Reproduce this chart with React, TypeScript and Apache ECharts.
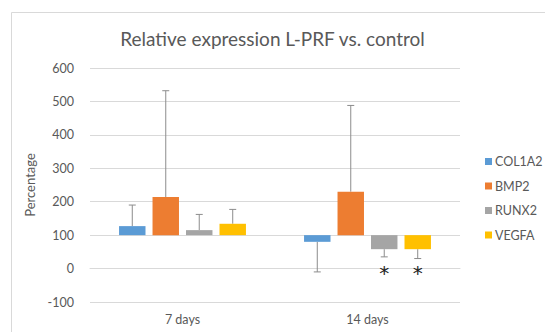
import React, { useEffect, useRef } from "react";
import * as echarts from "echarts";

const categories = ["7 days", "14 days"];
const seriesNames = ["COL1A2", "BMP2", "RUNX2", "VEGFA"];
const col1a2 = [127, 80];
const col1a2Err = [190, -10];
const bmp2 = [214, 230];
const bmp2Err = [532, 488];
const runx2 = [115, 58];
const runx2Err = [162, 35];
const vegfa = [134, 58];
const vegfaErr = [177, 30];
const runx2Sig = ["", "*"];
const vegfaSig = ["", "*"];
const yTicks = [-100, 0, 100, 200, 300, 400, 500, 600];

const baseline = 100;
const colors = ["#5B9BD5", "#ED7D31", "#A5A5A5", "#FFC000"];
const FONT = "Lato, 'Open Sans', sans-serif";

const values = [col1a2, bmp2, runx2, vegfa];
const errs = [col1a2Err, bmp2Err, runx2Err, vegfaErr];
const sigs = [["", ""], ["", ""], runx2Sig, vegfaSig];

export default function App() {
  const ref = useRef<HTMLDivElement>(null);
  useEffect(() => {
    document.body.style.margin = "0";
    const chart = echarts.init(ref.current!, null, { renderer: "svg" });
    const series = seriesNames.map((name, si) => ({
      type: "custom",
      name,
      itemStyle: { color: colors[si] },
      data: categories.map((_, ci) => [ci, values[si][ci], errs[si][ci]]),
      renderItem: (params: any, api: any) => {
        const ci = api.value(0);
        const v = api.value(1);
        const e = api.value(2);
        const bandW = api.size([1, 0])[0];
        const bw = bandW * 0.143;
        const gap = bandW * 0.038;
        const total = 4 * bw + 3 * gap;
        const c0 = api.coord([ci, baseline]);
        const x0 = c0[0] - total / 2 + si * (bw + gap);
        const yv = api.coord([ci, v])[1];
        const ye = api.coord([ci, e])[1];
        const xc = x0 + bw / 2;
        const children: any[] = [
          {
            type: "line",
            shape: { x1: xc, y1: yv, x2: xc, y2: ye },
            style: { stroke: "#8c8c8c", lineWidth: 1 },
          },
          {
            type: "line",
            shape: { x1: xc - 3.5, y1: ye, x2: xc + 3.5, y2: ye },
            style: { stroke: "#8c8c8c", lineWidth: 1 },
          },
          {
            type: "rect",
            shape: { x: x0, y: Math.min(yv, c0[1]), width: bw, height: Math.abs(yv - c0[1]) },
            style: { fill: colors[si] },
          },
        ];
        const s = sigs[si][params.dataIndex];
        if (s) {
          const y0 = api.coord([ci, 0])[1];
          children.push({
            type: "text",
            x: xc,
            y: y0 + 4,
            style: { text: s, fill: "#222", font: "20px 'DejaVu Sans', sans-serif", align: "center", verticalAlign: "middle" },
          });
        }
        return { type: "group", children };
      },
    }));
    chart.setOption({
      animation: false,
      title: {
        text: "Relative expression L-PRF vs. control",
        left: "center",
        top: 24,
        textStyle: { fontFamily: FONT, fontSize: 19, fontWeight: "normal", color: "#595959" },
      },
      graphic: [
        {
          type: "rect",
          shape: { x: 11.5, y: 12.5, width: 700, height: 500 },
          style: { fill: "none", stroke: "#d9d9d9", lineWidth: 1 },
        },
      ],
      legend: {
        orient: "vertical",
        left: 480,
        top: 150,
        itemWidth: 7,
        itemHeight: 7,
        itemGap: 11.5,
        icon: "rect",
        data: seriesNames.map((n, i) => ({ name: n, itemStyle: { color: colors[i] } })),
        textStyle: { fontFamily: FONT, fontSize: 12.5, color: "#595959", padding: [0, 0, 0, -2] },
      },
      grid: { left: 90, right: 85, top: 68, bottom: 30 },
      xAxis: {
        type: "category",
        data: categories,
        axisLine: { show: true, lineStyle: { color: "#d9d9d9" } },
        axisTick: { show: false },
        axisLabel: { fontFamily: FONT, fontSize: 12.5, color: "#595959", margin: 11 },
      },
      yAxis: {
        type: "value",
        min: yTicks[0],
        max: yTicks[yTicks.length - 1],
        interval: 100,
        name: "Percentage",
        nameLocation: "middle",
        nameGap: 50,
        nameTextStyle: { fontFamily: FONT, fontSize: 13, color: "#595959" },
        axisLine: { show: false },
        axisTick: { show: false },
        axisLabel: { fontFamily: FONT, fontSize: 12.5, color: "#595959", margin: 16 },
        splitLine: { lineStyle: { color: "#d9d9d9" } },
      },
      series,
    });
    return () => chart.dispose();
  }, []);
  return <div ref={ref} style={{ position: "absolute", left: 0, top: 0, width: 545, height: 332 }} />;
}
